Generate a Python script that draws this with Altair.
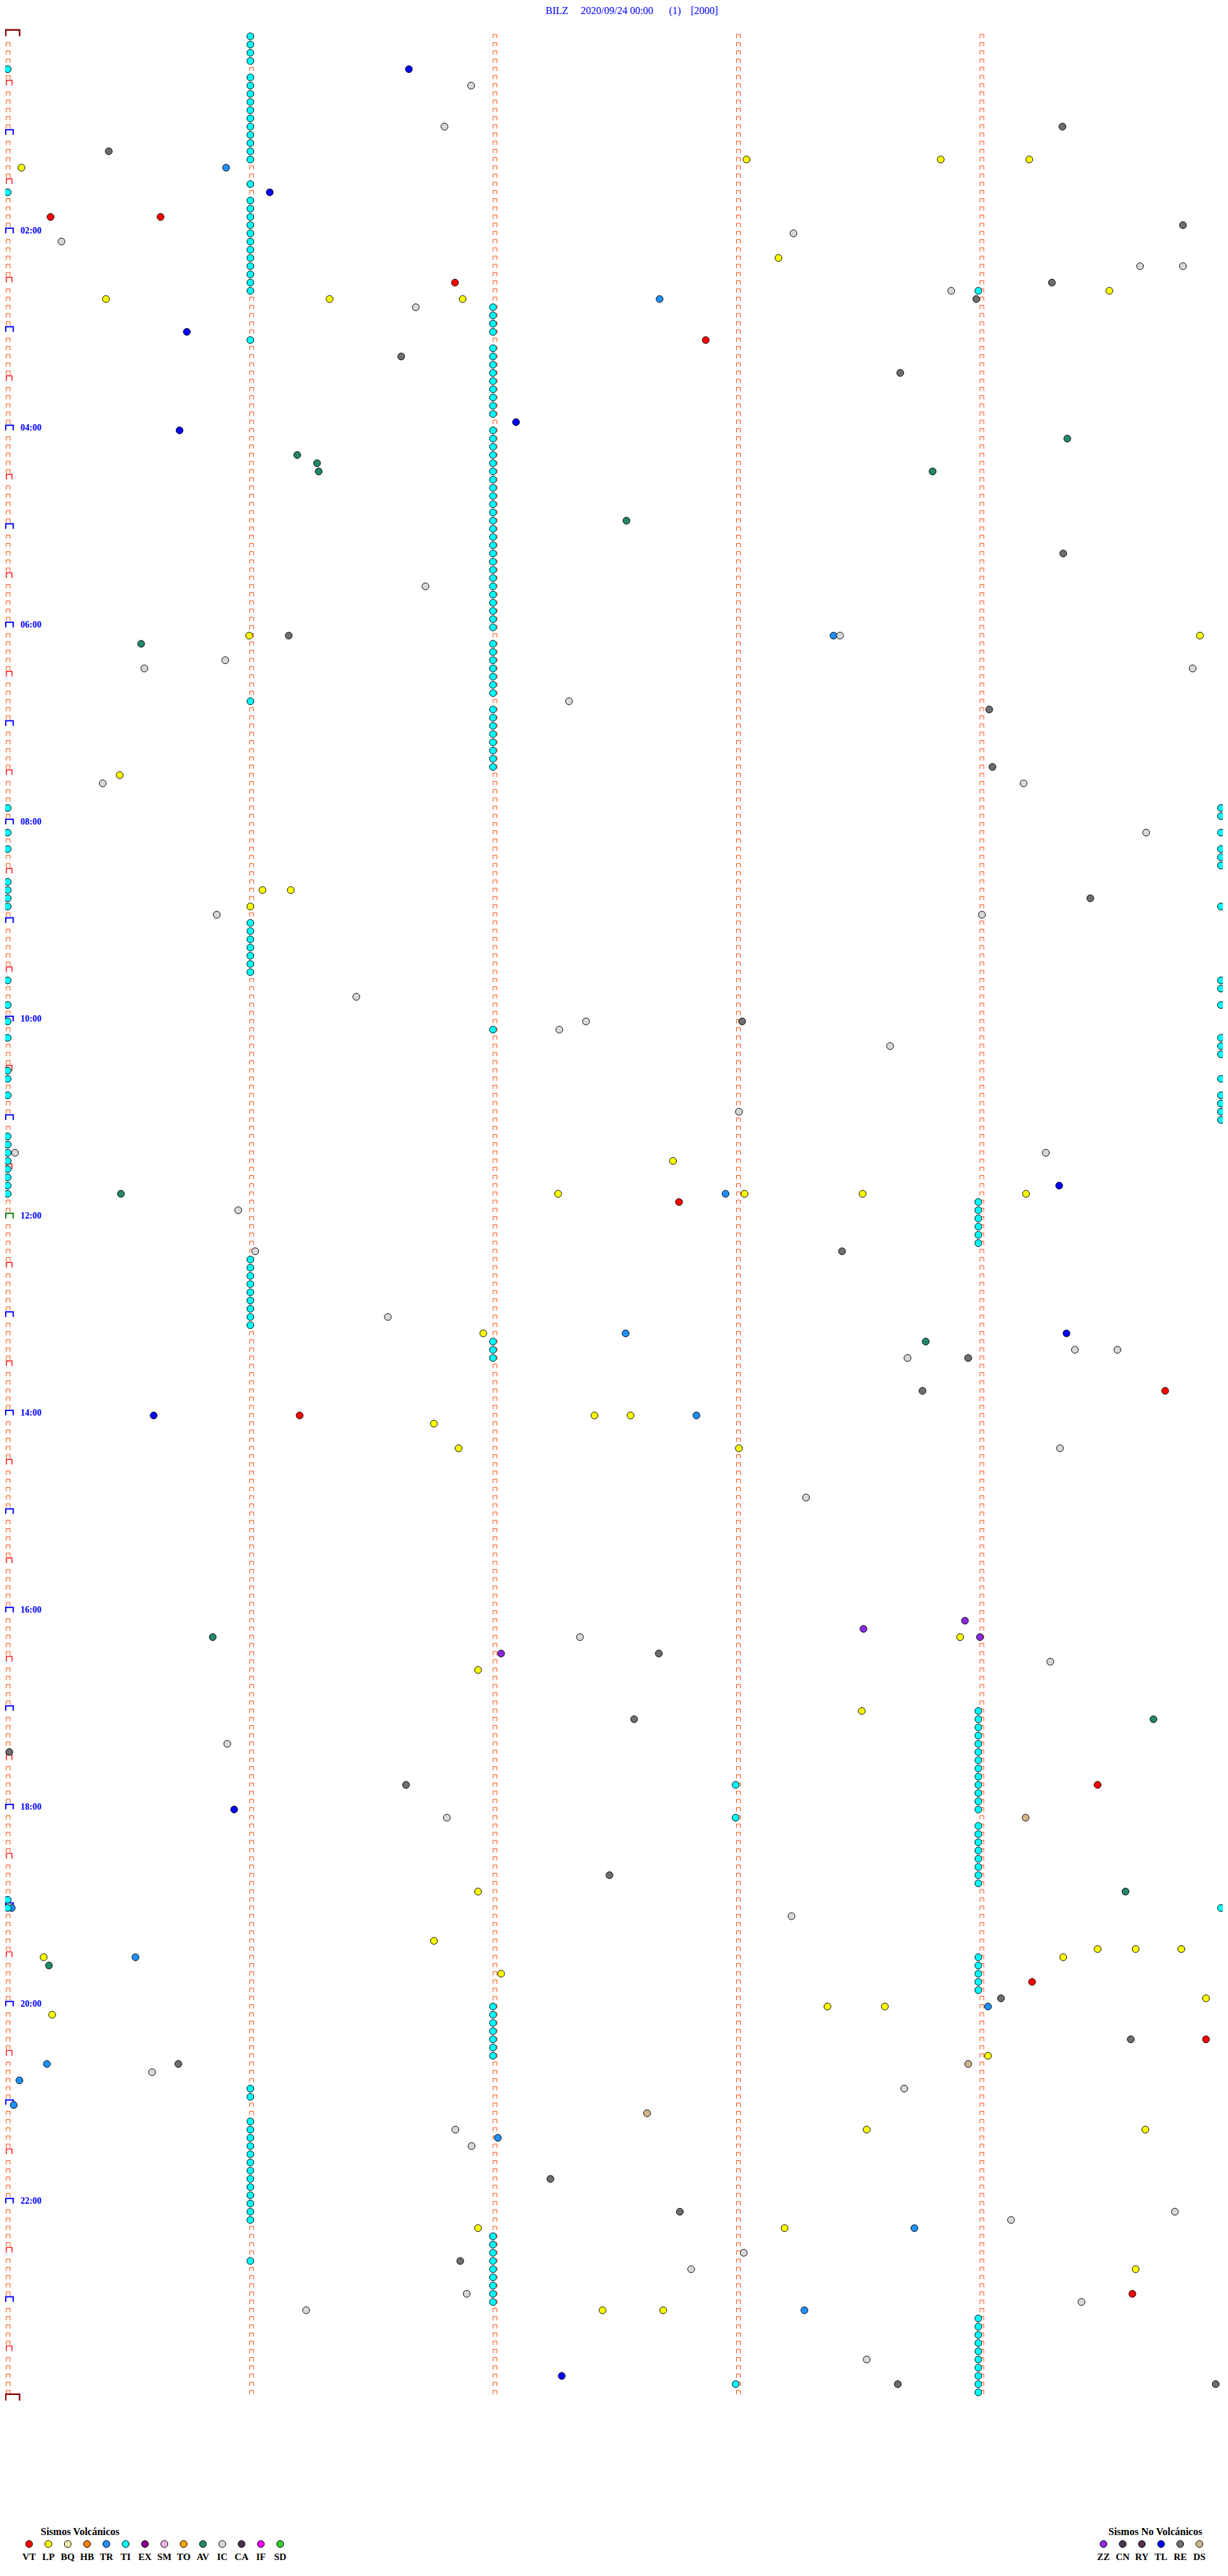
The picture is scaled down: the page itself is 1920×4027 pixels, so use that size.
import altair as alt
import pandas as pd

# ---------------- data ----------------
# event lists: (row of 5 minutes, seconds inside the row)
VT = [(22, 10.6), (22, 37.8), (30, 110.6), (37, 172.6), (142, 166.0), (165, 286.2), (168, 72.2),
      (213, 269.5), (237, 253.3), (244, 296.3), (275, 278.1)]
LP = [(16, 3.4), (32, 24.3), (32, 79.6), (32, 112.5), (15, 182.7), (15, 230.7), (15, 252.6), (27, 190.6),
      (31, 272.4), (73, 59.7), (90, 27.7), (73, 294.8), (104, 63.0), (104, 70.0), (106, 60.0), (141, 136.1),
      (137, 164.5), (141, 182.2), (141, 211.4), (141, 251.8), (158, 117.6), (168, 145.1), (168, 154.0),
      (169, 105.4), (172, 111.5), (172, 180.8), (195, 235.5), (199, 116.3), (204, 211.2), (226, 116.3),
      (232, 105.4), (233, 269.5), (233, 278.9), (233, 290.2), (234, 8.9), (234, 261.0), (236, 122.0),
      (239, 296.3), (240, 202.7), (240, 216.9), (241, 11.0), (246, 242.4), (255, 212.4), (255, 281.3),
      (267, 116.3), (267, 192.1), (272, 278.9), (277, 147.1), (277, 162.1)]
TR = [(16, 54.0), (32, 161.2), (73, 204.2), (141, 177.5), (158, 152.8), (168, 170.3), (228, 1.0),
      (234, 31.6), (240, 242.4), (247, 9.7), (249, 2.9), (252, 1.5), (256, 121.2), (267, 224.2), (277, 197.0)]
AV = [(51, 71.6), (52, 76.5), (53, 76.9), (74, 33.0), (49, 262.0), (53, 228.7), (59, 153.0), (141, 28.0),
      (159, 227.0), (195, 50.7), (205, 283.3), (226, 276.4), (235, 10.2)]
IC = [(6, 114.6), (11, 108.0), (25, 13.3), (33, 100.9), (24, 194.3), (28, 280.0), (28, 290.6), (31, 233.3),
      (67, 103.3), (76, 53.8), (77, 33.8), (81, 138.8), (91, 23.5), (73, 205.8), (77, 293.0), (91, 251.2),
      (107, 51.7), (117, 86.2), (121, 136.4), (120, 143.0), (136, 1.8), (143, 57.0), (97, 281.5),
      (107, 240.9), (123, 218.2), (131, 180.8), (136, 256.7), (148, 61.2), (156, 94.0), (160, 263.9),
      (160, 274.4), (161, 222.5), (172, 260.2), (178, 197.4), (195, 141.5), (198, 257.8), (208, 54.3),
      (217, 108.6), (229, 193.8), (248, 35.7), (250, 221.7), (255, 110.7), (257, 114.7), (265, 288.6),
      (266, 248.1), (270, 182.0), (272, 169.0), (275, 113.5), (276, 265.5), (277, 73.8), (283, 212.4)]
RE = [(14, 25.0), (39, 97.3), (11, 260.8), (23, 290.6), (30, 258.2), (32, 239.5), (41, 220.7), (73, 69.5),
      (63, 261.0), (82, 242.7), (89, 243.5), (105, 267.7), (120, 181.6), (148, 206.3), (161, 237.5),
      (165, 226.2), (197, 161.0), (205, 154.9), (209, 0.4), (213, 98.5), (224, 148.8), (239, 245.6),
      (244, 277.7), (247, 42.2), (261, 134.2), (265, 166.2), (271, 111.9), (286, 220.1), (286, 298.7)]
TL = [(4, 99.2), (19, 64.8), (36, 44.3), (47, 125.7), (48, 42.5), (140, 260.0), (158, 261.8), (168, 36.1),
      (216, 56.0), (285, 137.0)]
ZZ = [(193, 236.7), (194, 211.6), (195, 240.4), (197, 122.0)]
DS = [(217, 251.7), (247, 237.5), (253, 158.1)]

# TI detections sit on the minute marks: rows per minute mark (0,60,...,300 s)
TI_0 = [4, 19, 94, 97, 99, 103, 104, 105, 106, 115, 118, 120, 122, 126, 127, 129,
        134, 135, 136, 137, 138, 139, 140, 141, 227, 228]
TI_60 = [0, 1, 2, 3, 5, 6, 7, 8, 9, 10, 11, 12, 13, 14, 15, 18, 20, 21, 22, 23, 24, 25, 26, 27, 28, 29,
         30, 31, 37, 81, 108, 109, 110, 111, 112, 113, 114, 149, 150, 151, 152, 153, 154, 155, 156, 157,
         250, 251, 254, 255, 256, 257, 258, 259, 260, 261, 262, 263, 264, 265, 266, 271]
TI_120 = [33, 34, 35, 36, 38, 39, 40, 41, 42, 43, 44, 45, 46, 48, 49, 50, 51, 52, 53, 54, 55, 56, 57, 58,
          59, 60, 61, 62, 63, 64, 65, 66, 67, 68, 69, 70, 71, 72, 74, 75, 76, 77, 78, 79, 80, 82, 83, 84,
          85, 86, 87, 88, 89, 121, 159, 160, 161, 240, 241, 242, 243, 244, 245, 246,
          268, 269, 270, 271, 272, 273, 274, 275, 276]
TI_180 = [213, 217, 286]
TI_240 = [31, 142, 143, 144, 145, 146, 147, 204, 205, 206, 207, 208, 209, 210, 211, 212, 213, 214, 215,
          216, 218, 219, 220, 221, 222, 223, 224, 225, 234, 235, 236, 237, 238,
          278, 279, 280, 281, 282, 283, 284, 285, 286, 287]
TI_300 = [94, 95, 97, 99, 100, 101, 106, 115, 116, 118, 122, 123, 124, 127, 129, 130, 131, 132, 228]

VOLC_CODES = ["VT", "LP", "BQ", "HB", "TR", "TI", "EX", "SM", "TO", "AV", "IC", "CA", "IF", "SD"]
VOLC_COLORS = ["#FF0000", "#FFFF00", "#EEE8AA", "#FF8000", "#1E90FF", "#00FFFF", "#8B008B",
               "#EEB4EE", "#FFA500", "#23876B", "#D8D8D8", "#4B2D4B", "#FF00FF", "#32CD32"]
NOVOLC_CODES = ["ZZ", "CN", "RY", "TL", "RE", "DS"]
NOVOLC_COLORS = ["#8A2BE2", "#4A3552", "#55304F", "#0000FF", "#6E6E6E", "#D2B48C"]

HOUR_LABELS = ["02:00", "04:00", "06:00", "08:00", "10:00", "12:00",
               "14:00", "16:00", "18:00", "20:00", "22:00"]
TITLE_PARTS = ["BILZ", "2020/09/24 00:00", "(1)", "[2000]"]

# ---------------- tables ----------------
ROWS = 288
events = []
for code, lst in [("VT", VT), ("LP", LP), ("TR", TR), ("AV", AV), ("IC", IC), ("RE", RE),
                  ("TL", TL), ("ZZ", ZZ), ("DS", DS)]:
    for r, s in lst:
        events.append({"type": code, "row": r, "sec": s})
for sec, rows in [(0, TI_0), (60, TI_60), (120, TI_120), (180, TI_180), (240, TI_240), (300, TI_300)]:
    for r in rows:
        events.append({"type": "TI", "row": r, "sec": sec})
ev_df = pd.DataFrame(events)

ticks = []
for col in range(5):
    for r in range(ROWS):
        if col == 0 and r % 6 == 0:
            continue
        ticks.append({"row": r, "sec": col * 60})
tick_df = pd.DataFrame(ticks)

half_df = pd.DataFrame({"row": [r for r in range(ROWS) if r % 12 == 6], "sec": 0})
hour_df = pd.DataFrame({"row": [r for r in range(12, ROWS, 12) if r != 144], "sec": 0})
noon_df = pd.DataFrame({"row": [144], "sec": 0})
day_df = pd.DataFrame({"row": [0, ROWS], "sec": 0})
lab_df = pd.DataFrame({"row": [24 * (i + 1) for i in range(len(HOUR_LABELS))], "label": HOUR_LABELS})

# ---------------- scales ----------------
XS_DOT = alt.Scale(domain=[0, 300], range=[4, 1901], nice=False, zero=False)
XS_TICK = alt.Scale(domain=[0, 300], range=[4.8, 1907.7], nice=False, zero=False)
YS = alt.Scale(domain=[0, ROWS], range=[48.8, 3744.7], nice=False, zero=False)

ALL_CODES = VOLC_CODES + NOVOLC_CODES
ALL_COLORS = VOLC_COLORS + NOVOLC_COLORS

TICK_PATH = "M-1,1L-1,-1L1,-1L1,1"


def bracket(df, ratio, size, color, sw, xoff, yoff):
    path = f"M-1,{ratio}L-1,-{ratio}L1,-{ratio}L1,{ratio}"
    return alt.Chart(df).mark_point(shape=path, filled=False, size=size, stroke=color,
                                    strokeWidth=sw, opacity=1, xOffset=xoff, yOffset=yoff).encode(
        x=alt.X("sec:Q", scale=XS_TICK, axis=None),
        y=alt.Y("row:Q", scale=YS, axis=None))


tick_layer = alt.Chart(tick_df).mark_point(shape=TICK_PATH, filled=False, size=36, stroke="#FF4500",
                                           strokeWidth=1, opacity=1).encode(
    x=alt.X("sec:Q", scale=XS_TICK, axis=None),
    y=alt.Y("row:Q", scale=YS, axis=None))

half_layer = bracket(half_df, 0.92, 76, "#FF0000", 1.4, 1.5, -4.3)
hour_layer = bracket(hour_df, 0.68, 137, "#0000FF", 2, 2, -4.1)
noon_layer = bracket(noon_df, 0.68, 137, "#008000", 2, 2, -4.1)
day_layer = bracket(day_df, 0.46, 471, "#8B0000", 2.4, 7, -5)

label_layer = alt.Chart(lab_df).mark_text(align="left", baseline="alphabetic", font="Liberation Serif",
                                          fontSize=14, fontWeight="bold", color="#0000FF").encode(
    x=alt.value(24),
    y=alt.Y("row:Q", scale=YS, axis=None),
    text="label:N")

event_layer = alt.Chart(ev_df).mark_point(shape="circle", filled=True, size=118, stroke="black",
                                          strokeWidth=1, opacity=1, fillOpacity=1).encode(
    x=alt.X("sec:Q", scale=XS_DOT, axis=None),
    y=alt.Y("row:Q", scale=YS, axis=None),
    fill=alt.Fill("type:N", scale=alt.Scale(domain=ALL_CODES, range=ALL_COLORS), legend=None))

title_df = pd.DataFrame({"part": TITLE_PARTS, "px": [845, 900, 1038, 1072]})
title_layer = alt.Chart(title_df).mark_text(align="left", baseline="alphabetic", font="Liberation Serif",
                                            fontSize=16, color="#0000FF").encode(
    x=alt.X("px:Q", scale=None, axis=None),
    y=alt.value(14),
    text="part:N")

# legends
leg_rows = []
for i, (c, col) in enumerate(zip(VOLC_CODES, VOLC_COLORS)):
    leg_rows.append({"code": c, "color": col, "px": 37.5 + 30.2 * i})
for i, (c, col) in enumerate(zip(NOVOLC_CODES, NOVOLC_COLORS)):
    leg_rows.append({"code": c, "color": col, "px": 1717.3 + 30 * i})
leg_df = pd.DataFrame(leg_rows)

leg_dots = alt.Chart(leg_df).mark_point(shape="circle", filled=True, size=118, stroke="black",
                                        strokeWidth=1, opacity=1).encode(
    x=alt.X("px:Q", scale=None, axis=None),
    y=alt.value(3969),
    fill=alt.Fill("color:N", scale=None, legend=None))
leg_text = alt.Chart(leg_df).mark_text(align="center", baseline="alphabetic", font="Liberation Serif",
                                       fontSize=15, fontWeight="bold", color="black").encode(
    x=alt.X("px:Q", scale=None, axis=None),
    y=alt.value(3994),
    text="code:N")
leg_title_df = pd.DataFrame({"t": ["Sismos Volcánicos", "Sismos No Volcánicos"], "px": [55.5, 1725]})
leg_title = alt.Chart(leg_title_df).mark_text(align="left", baseline="alphabetic", font="Liberation Serif",
                                              fontSize=16, fontWeight="bold", color="black").encode(
    x=alt.X("px:Q", scale=None, axis=None),
    y=alt.value(3955),
    text="t:N")

chart = alt.layer(tick_layer, half_layer, hour_layer, noon_layer, day_layer, label_layer,
                  event_layer, title_layer, leg_dots, leg_text, leg_title).resolve_scale(
    x="independent", y="independent", fill="independent").properties(
    width=1904, height=4000, padding=0, background="white",
    autosize=alt.AutoSizeParams(type="none")).configure_view(stroke=None)

chart.save("out.html", embed_options={"renderer": "svg", "actions": False})
